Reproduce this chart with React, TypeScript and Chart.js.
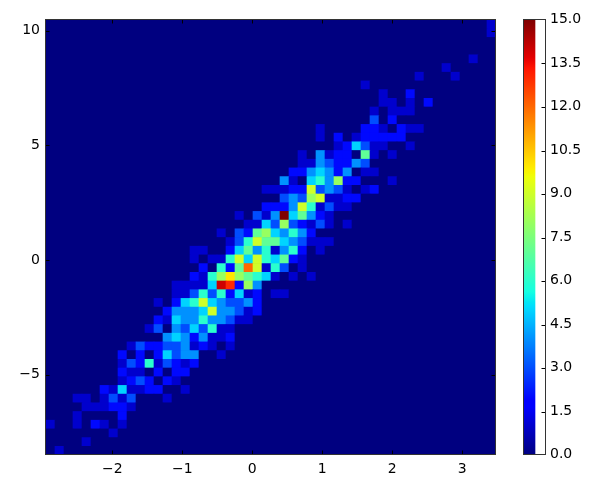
import React, { useEffect, useRef } from "react";
import { Chart, registerables } from "chart.js";

Chart.register(...registerables);

const xMin = -2.947;
const xMax = 3.481;
const yMin = -8.497;
const yMax = 10.46;
const binCount = 50;
const vMax = 15;
const colorbarRange = [0, 15];
const colorbarStep = 1.5;

// Histogram rows, top to bottom. [first column, counts in hex digits]
const heatRows: [number, string][] = [
  [49, "1"], [49, "1"], [0, ""], [0, ""], [47, "1"],
  [44, "1"], [41, "10001"], [35, "1"], [37, "1002"], [37, "110102"],
  [36, "10111"], [36, "302"], [30, "100002210211"], [30, "1020122222"], [32, "125311001"],
  [28, "10412207101"], [28, "11432243"], [27, "2245424011"], [26, "4105648220001"], [24, "1112293431012"],
  [26, "343891122"], [24, "2224961311"], [21, "10314f57421"], [22, "115383213101"], [19, "10327854642"],
  [20, "136977543111"], [16, "110025746146201"], [16, "1011695965721"], [17, "20627c916301"], [16, "2168a876510101"],
  [14, "11115ed284"], [14, "1136362512011"], [12, "102569543342"], [13, "24445944312"], [12, "21544644311"],
  [11, "1304353611"], [13, "45424112"], [9, "132233412101"], [8, "202025344001"], [8, "132613212"],
  [8, "21102022"], [8, "1232021"], [6, "2151122001"], [3, "11013130001"], [4, "111221"],
  [3, "100002"], [0, "100102101"], [7, "1"], [4, "1"], [1, "1"],
];

const lerp = (t: number, pts: number[][]) => {
  for (let i = 1; i < pts.length; i++) {
    if (t <= pts[i][0]) {
      const [a, va] = pts[i - 1];
      const [b, vb] = pts[i];
      return va + ((vb - va) * (t - a)) / (b - a);
    }
  }
  return pts[pts.length - 1][1];
};
const jet = (t: number) => {
  const r = lerp(t, [[0, 0], [0.35, 0], [0.66, 1], [0.89, 1], [1, 0.5]]);
  const g = lerp(t, [[0, 0], [0.125, 0], [0.375, 1], [0.64, 1], [0.91, 0], [1, 0]]);
  const b = lerp(t, [[0, 0.5], [0.11, 1], [0.34, 1], [0.65, 0], [1, 0]]);
  return `rgb(${Math.round(r * 255)},${Math.round(g * 255)},${Math.round(b * 255)})`;
};

const FONT = { family: "'DejaVu Sans'", size: 14 };
const FRAME = "#333";
const minusLabel = (v: number | string) => String(v).replace("-", "\u2212");

const inwardTicks = {
  id: "inwardTicks",
  afterDatasetsDraw(chart: any) {
    const { ctx, chartArea: a, scales } = chart;
    const L = Math.round(a.left) - 0.5;
    const R = Math.round(a.right) - 0.5;
    const T = Math.round(a.top) - 0.5;
    const B = Math.round(a.bottom) - 0.5;
    ctx.save();
    ctx.strokeStyle = "#000";
    ctx.lineWidth = 1;
    ctx.beginPath();
    const full = scales.x.options.display !== false;
    if (full) {
      for (const t of scales.x.ticks) {
        const x = Math.round(scales.x.getPixelForValue(t.value)) + 0.5;
        ctx.moveTo(x, B); ctx.lineTo(x, B - 4);
        ctx.moveTo(x, T); ctx.lineTo(x, T + 4);
      }
    }
    for (const t of scales.y.ticks) {
      const y = Math.round(scales.y.getPixelForValue(t.value)) + 0.5;
      if (y <= T + 2 || y >= B - 2) continue;
      if (full) {
        ctx.moveTo(L, y); ctx.lineTo(L + 4, y);
      }
      ctx.moveTo(R, y); ctx.lineTo(R - 4, y);
    }
    ctx.stroke();
    ctx.strokeStyle = FRAME;
    ctx.strokeRect(L, T, R - L, B - T);
    ctx.restore();
  },
};

const plotBackground = {
  id: "plotBackground",
  beforeDatasetsDraw(chart: any) {
    const { ctx, chartArea: a } = chart;
    ctx.save();
    ctx.fillStyle = jet(0);
    ctx.fillRect(a.left, a.top, a.right - a.left, a.bottom - a.top);
    ctx.restore();
  },
};

export default function App() {
  const mainRef = useRef<HTMLCanvasElement>(null);
  const barRef = useRef<HTMLCanvasElement>(null);

  useEffect(() => {
    const dx = (xMax - xMin) / binCount;
    const dy = (yMax - yMin) / binCount;
    const cells: { x: number; y: [number, number] }[] = [];
    const colors: string[] = [];
    heatRows.forEach(([start, digits], r) => {
      for (let c = 0; c < binCount; c++) {
        const ch = c >= start ? digits[c - start] : undefined;
        const v = ch ? parseInt(ch, 16) : 0;
        const top = yMax - r * dy;
        cells.push({ x: xMin + (c + 0.5) * dx, y: [top - dy, top] });
        colors.push(jet(v / vMax));
      }
    });

    const main = new Chart(mainRef.current!, {
      type: "bar",
      data: {
        datasets: [{
          data: cells as any,
          backgroundColor: colors,
          borderWidth: 0,
          barPercentage: 1,
          categoryPercentage: 1,
        }],
      },
      options: {
        animation: false,
        responsive: false,
        events: [],
        layout: { padding: { top: 20, right: 116, left: 0, bottom: 0 } },
        plugins: { legend: { display: false }, tooltip: { enabled: false }, title: { display: false } },
        scales: {
          x: {
            type: "linear",
            min: xMin,
            max: xMax,
            offset: false,
            grid: { display: false, drawTicks: false },
            border: { display: false },
            afterFit: (s: any) => { s.height = 42; },
            ticks: {
              stepSize: 1,
              includeBounds: false,
              autoSkip: false,
              maxRotation: 0,
              padding: 6,
              color: "#000",
              font: FONT,
              callback: (v: any) => minusLabel(v),
            },
          },
          y: {
            type: "linear",
            min: yMin,
            max: yMax,
            grid: { display: false, drawTicks: false },
            border: { display: false },
            afterFit: (s: any) => { s.width = 46; },
            ticks: {
              stepSize: 5,
              includeBounds: false,
              autoSkip: false,
              padding: 6,
              color: "#000",
              font: FONT,
              callback: (v: any) => minusLabel(v),
            },
          },
        },
      },
      plugins: [plotBackground, inwardTicks],
    } as any);

    const colorbar = new Chart(barRef.current!, {
      type: "bar",
      data: {
        labels: ["count"],
        datasets: [{
          data: [colorbarRange] as any,
          borderWidth: 0,
          barPercentage: 1,
          categoryPercentage: 1,
          backgroundColor: (ctx: any) => {
            const { chart } = ctx;
            const s = chart.scales.y;
            if (!s || !Number.isFinite(s.top) || !Number.isFinite(s.bottom)) return jet(0);
            const g = chart.ctx.createLinearGradient(0, s.bottom, 0, s.top);
            for (let i = 0; i <= 128; i++) g.addColorStop(i / 128, jet(i / 128));
            return g;
          },
        }],
      },
      options: {
        animation: false,
        responsive: false,
        events: [],
        layout: { padding: { top: 20, left: 524, right: 0, bottom: 42 } },
        plugins: { legend: { display: false }, tooltip: { enabled: false }, title: { display: false } },
        scales: {
          x: { display: false, offset: false },
          y: {
            position: "right",
            min: colorbarRange[0],
            max: colorbarRange[1],
            grid: { display: false, drawTicks: false },
            border: { display: false },
            afterFit: (s: any) => { s.width = 66; },
            ticks: {
              stepSize: colorbarStep,
              autoSkip: false,
              padding: 4,
              labelOffset: -0.5,
              color: "#000",
              font: FONT,
              callback: (v: any) => Number(v).toFixed(1),
            },
          },
        },
      },
      plugins: [inwardTicks],
    } as any);

    return () => {
      main.destroy();
      colorbar.destroy();
    };
  }, []);

  const style: React.CSSProperties = { position: "absolute", left: 0, top: 0 };
  return (
    <div style={{ position: "absolute", left: 0, top: 0, width: 612, height: 497, background: "#fff" }}>
      <canvas ref={mainRef} width={612} height={497} style={style} />
      <canvas ref={barRef} width={612} height={497} style={style} />
    </div>
  );
}
